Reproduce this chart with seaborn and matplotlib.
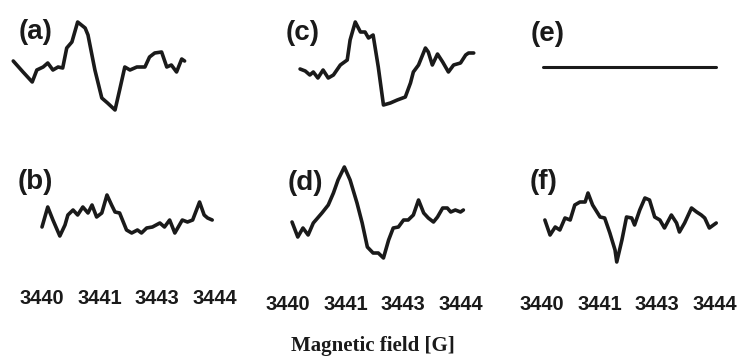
import matplotlib
matplotlib.use("Agg")
import matplotlib.pyplot as plt
import seaborn as sns
import pandas as pd
from matplotlib import font_manager

sns.set_theme(style="white")
plt.rcParams['font.family'] = ['Liberation Sans', 'DejaVu Sans']

names = sorted({f.name for f in font_manager.fontManager.ttflist})
narrow = "Liberation Sans Narrow" if "Liberation Sans Narrow" in names else None

# tick labels (equally spaced in the original)
tick_pos = [0, 1, 2, 3]
tick_labels = ["3440", "3441", "3443", "3444"]
panel_labels = ["(a)", "(b)", "(c)", "(d)", "(e)", "(f)"]

# panel (a)
a_x = [-0.50, -0.33, -0.17, -0.09, 0.02, 0.10, 0.19, 0.28, 0.36, 0.43, 0.52, 0.62, 0.75, 0.80,
       0.92, 1.04, 1.14, 1.27, 1.35, 1.44, 1.53, 1.65, 1.79, 1.87, 1.96, 2.08, 2.17, 2.25, 2.34,
       2.43, 2.48]
a_y = [6.9, 5.8, 4.8, 6.0, 6.3, 6.7, 6.0, 6.3, 6.2, 8.2, 8.8, 10.8, 10.2, 9.5, 6.0, 3.2, 2.7,
       2.0, 4.0, 6.3, 6.0, 6.3, 6.3, 7.3, 7.7, 7.8, 6.3, 6.5, 5.8, 7.1, 6.9]

# panel (b)
b_x = [0.00, 0.10, 0.19, 0.31, 0.40, 0.45, 0.54, 0.62, 0.71, 0.80, 0.87, 0.95, 1.04, 1.13, 1.21,
       1.27, 1.35, 1.47, 1.56, 1.66, 1.73, 1.82, 1.92, 2.05, 2.13, 2.22, 2.31, 2.39, 2.44, 2.53,
       2.62, 2.74, 2.82, 2.88, 2.96]
b_y = [4.3, 6.3, 5.0, 3.4, 4.5, 5.5, 6.0, 5.5, 6.3, 5.7, 6.5, 5.3, 5.7, 7.5, 6.5, 5.8, 5.7, 4.0,
       3.7, 4.0, 3.7, 4.2, 4.3, 4.7, 4.3, 5.0, 3.7, 4.5, 5.0, 4.8, 5.0, 6.8, 5.5, 5.2, 5.0]

# panel (c)
c_x = [0.21, 0.30, 0.38, 0.44, 0.52, 0.61, 0.70, 0.79, 0.91, 1.03, 1.08, 1.17, 1.26, 1.34, 1.40,
       1.48, 1.57, 1.66, 1.78, 1.90, 2.04, 2.13, 2.18, 2.27, 2.39, 2.44, 2.51, 2.60, 2.69, 2.79,
       2.88, 3.00, 3.09, 3.14, 3.23]
c_y = [6.1, 5.9, 5.5, 5.8, 5.2, 6.0, 5.2, 5.5, 6.5, 7.0, 9.0, 10.8, 9.8, 9.8, 9.2, 9.5, 6.3, 2.5,
       2.7, 3.0, 3.3, 4.7, 5.8, 6.5, 8.2, 7.8, 6.5, 7.6, 6.8, 5.8, 6.5, 6.7, 7.5, 7.7, 7.7]

# panel (d)
d_x = [0.07, 0.17, 0.26, 0.35, 0.44, 0.59, 0.70, 0.79, 0.87, 0.98, 1.08, 1.20, 1.29, 1.38, 1.48,
       1.57, 1.66, 1.75, 1.83, 1.92, 2.01, 2.09, 2.18, 2.27, 2.36, 2.44, 2.53, 2.60, 2.69, 2.77,
       2.83, 2.91, 3.00, 3.05]
d_y = [4.8, 3.3, 4.2, 3.5, 4.7, 5.7, 6.5, 7.7, 9.0, 10.3, 9.0, 6.7, 4.7, 2.3, 1.7, 1.7, 1.2, 3.0,
       4.2, 4.3, 5.0, 5.0, 5.5, 7.0, 5.7, 5.2, 4.8, 5.3, 6.2, 6.2, 5.8, 6.0, 5.8, 6.0]

# panel (e) - flat
e_x = [0.02, 1.00, 2.00, 3.03]
e_y = [6.3, 6.3, 6.3, 6.3]

# panel (f)
f_x = [0.05, 0.14, 0.23, 0.31, 0.40, 0.49, 0.57, 0.66, 0.75, 0.80, 0.88, 1.01, 1.09, 1.18, 1.27,
       1.30, 1.39, 1.47, 1.56, 1.61, 1.70, 1.79, 1.87, 1.96, 2.05, 2.13, 2.25, 2.34, 2.39, 2.48,
       2.60, 2.69, 2.77, 2.83, 2.91, 3.03]
f_y = [5.0, 3.5, 4.3, 4.0, 5.2, 5.0, 6.5, 6.8, 6.8, 7.7, 6.5, 5.3, 5.2, 3.7, 2.0, 0.8, 3.0, 5.3,
       5.2, 4.5, 6.0, 7.2, 7.0, 5.3, 5.0, 4.2, 5.5, 4.7, 3.8, 4.7, 6.2, 5.8, 5.5, 5.2, 4.2, 4.7]

panels = {
    "(a)": (a_x, a_y), "(b)": (b_x, b_y), "(c)": (c_x, c_y),
    "(d)": (d_x, d_y), "(e)": (e_x, e_y), "(f)": (f_x, f_y),
}

W, H = 742, 358
fig = plt.figure(figsize=(W / 100, H / 100), dpi=100)

col_left_px = [7.5, 253.5, 507.5]
ax_w_px = 230
row_bottom_px = [130, 270]
ax_h_px = 120
label_pos = {"(a)": (-0.12, 9.8), "(c)": (0.26, 9.7), "(e)": (0.10, 9.6),
             "(b)": (-0.12, 8.8), "(d)": (0.30, 8.7), "(f)": (0.03, 8.8)}
pads = [14, 18, 18]

if narrow:
    tick_family = [narrow, "Liberation Sans"]
    tick_size = 17
else:
    tick_family = ["Liberation Sans"]
    tick_size = 14.5

for ci in range(3):
    for ri in range(2):
        name = panel_labels[ci * 2 + ri]
        xs, ys = panels[name]
        rect = [col_left_px[ci] / W, 1 - row_bottom_px[ri] / H, ax_w_px / W, ax_h_px / H]
        ax = fig.add_axes(rect)
        df = pd.DataFrame({"field": xs, "signal": ys})
        lw = 2.2 if name == "(e)" else 2.6
        sns.lineplot(data=df, x="field", y="signal", ax=ax, sort=False,
                     color="#1a1a1a", linewidth=lw, estimator=None)
        ax.set_xlim(-0.6, 3.4)
        ax.set_ylim(0, 12)
        for s in ax.spines.values():
            s.set_visible(False)
        ax.set_xlabel("")
        ax.set_ylabel("")
        ax.set_yticks([])
        if ri == 1:
            ax.set_xticks(tick_pos)
            ax.set_xticklabels(tick_labels, fontsize=tick_size, fontweight="bold",
                               color="#1a1a1a", family=tick_family)
            ax.tick_params(axis="x", length=0, pad=pads[ci])
        else:
            ax.set_xticks([])
        lx, ly = label_pos[name]
        ax.text(lx, ly, name, fontsize=20, fontweight="bold", color="#1a1a1a",
                ha="center", va="center", clip_on=False)
        ax.patch.set_alpha(0)

fig.text(373 / W, 1 - 346 / H, "Magnetic field [G]", ha="center", va="center",
         fontsize=15, fontweight="bold", color="#1a1a1a",
         family=["Liberation Serif", "DejaVu Serif"])

fig.savefig("out.png", dpi=100, facecolor="white")
